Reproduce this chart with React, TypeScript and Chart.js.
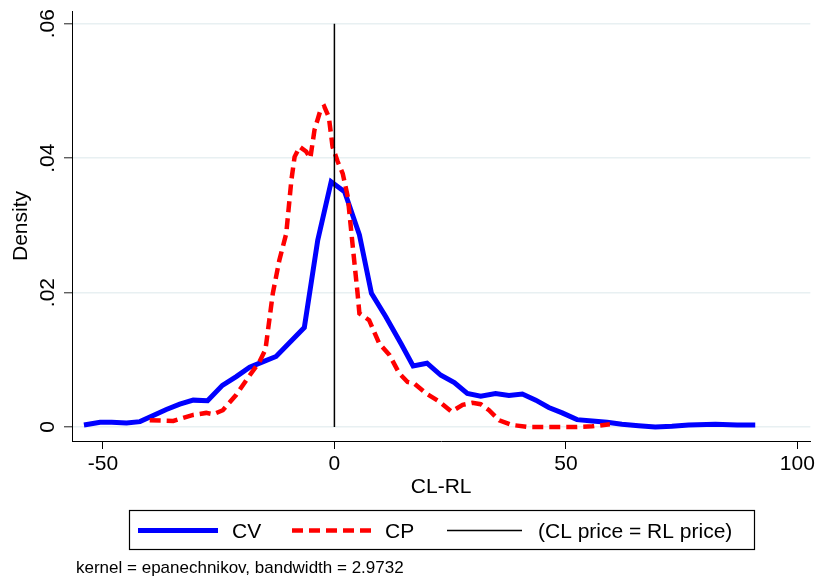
import React, { useEffect, useRef } from 'react';
import { Chart, registerables } from 'chart.js';

Chart.register(...registerables);

// ---- data ----
const cvX = [-54.1, -50.6, -48.1, -44.9, -42.0, -36.3, -33.4, -30.5, -27.4, -24.2, -21.2, -18.3, -15.5, -12.6, -6.5, -3.6, -0.7, 2.2, 5.4, 8.0, 11.1, 14.4, 17.0, 20.0, 23.0, 25.9, 28.7, 31.6, 34.8, 37.7, 40.6, 43.5, 46.3, 49.2, 52.4, 55.7, 58.9, 62.1, 65.7, 69.3, 72.9, 76.5, 82.3, 87.0, 90.9];
const cvY = [0.0003, 0.0007, 0.0007, 0.0006, 0.0008, 0.0026, 0.0034, 0.0040, 0.0039, 0.0062, 0.0075, 0.0089, 0.0097, 0.0105, 0.0148, 0.0278, 0.0365, 0.0350, 0.0286, 0.0199, 0.0164, 0.0124, 0.0091, 0.0095, 0.0077, 0.0066, 0.0050, 0.0046, 0.0050, 0.0047, 0.0049, 0.0040, 0.0029, 0.0021, 0.0011, 0.0009, 0.0007, 0.0004, 0.0002, 0.0000, 0.0001, 0.0003, 0.0004, 0.0003, 0.0003];

const cpX = [-39.9, -34.8, -30.5, -27.7, -26.2, -24.1, -21.2, -19.0, -16.2, -14.9, -13.3, -11.9, -10.4, -9.3, -8.6, -7.5, -6.1, -5.2, -4.3, -2.9, -2.2, -1.2, -0.4, 0.7, 1.8, 2.9, 3.9, 5.0, 5.4, 7.5, 9.7, 11.9, 14.0, 15.8, 17.2, 19.8, 22.6, 25.3, 27.7, 29.8, 31.6, 33.4, 35.6, 38.4, 42.0, 47.0, 52.1, 55.7, 59.5];
const cpY = [0.0010, 0.0009, 0.0018, 0.0021, 0.0019, 0.0025, 0.0048, 0.0070, 0.0097, 0.0115, 0.0199, 0.0248, 0.0288, 0.0367, 0.0402, 0.0417, 0.0410, 0.0400, 0.0442, 0.0474, 0.0477, 0.0461, 0.0417, 0.0395, 0.0377, 0.0342, 0.0273, 0.0199, 0.0169, 0.0159, 0.0124, 0.0107, 0.0080, 0.0067, 0.0065, 0.0050, 0.0038, 0.0023, 0.0033, 0.0036, 0.0034, 0.0025, 0.0010, 0.0003, 0.0000, 0.0000, 0.0000, 0.0001, 0.0004];

const refX = [0, 0];
const refY = [0, 0.06];

const xTicks = [-50, 0, 50, 100];
const xTickLabels = ['-50', '0', '50', '100'];
const yTicks = [0, 0.02, 0.04, 0.06];
const yTickLabels = ['0', '.02', '.04', '.06'];

const seriesNames = ['CV', 'CP', '(CL price = RL price)'];
const xTitle = 'CL-RL';
const yTitle = 'Density';
const noteText = 'kernel = epanechnikov, bandwidth = 2.9732';

const FONT = '"Liberation Sans", Arial, Helvetica, sans-serif';

const toPoints = (xs: number[], ys: number[]) => xs.map((x, i) => ({ x, y: ys[i] }));

const decorPlugin = {
  id: 'decor',
  afterDraw(chart: any) {
    const ctx = chart.ctx as CanvasRenderingContext2D;
    const yScale = chart.scales.y;
    ctx.save();
    ctx.fillStyle = '#000';
    // rotated y tick labels (Stata style)
    ctx.font = `21px ${FONT}`;
    yTicks.forEach((v, i) => {
      const py = yScale.getPixelForValue(v);
      ctx.save();
      ctx.translate(53.5, py);
      ctx.rotate(-Math.PI / 2);
      ctx.textAlign = 'center';
      ctx.textBaseline = 'alphabetic';
      ctx.fillText(yTickLabels[i], 0, 0);
      ctx.restore();
    });

    // legend box
    ctx.strokeStyle = '#000';
    ctx.lineWidth = 1.2;
    ctx.strokeRect(129.5, 510.5, 625, 39);

    const order = [0, 1, 2];
    const samples = [
      { x0: 138, x1: 218, tx: 232 },
      { x0: 292, x1: 372, tx: 385 },
      { x0: 447, x1: 522, tx: 538 },
    ];
    order.forEach((di, k) => {
      const ds = chart.data.datasets[di];
      const s = samples[k];
      ctx.save();
      ctx.strokeStyle = ds.borderColor;
      ctx.lineWidth = ds.borderWidth;
      ctx.setLineDash(ds.borderDash || []);
      ctx.lineCap = 'butt';
      ctx.beginPath();
      ctx.moveTo(s.x0, 530.5);
      ctx.lineTo(s.x1, 530.5);
      ctx.stroke();
      ctx.restore();
      ctx.font = `21px ${FONT}`;
      ctx.textAlign = 'left';
      ctx.textBaseline = 'alphabetic';
      ctx.fillText(seriesNames[di], s.tx, 537.5);
    });

    // note
    ctx.font = `17px ${FONT}`;
    ctx.textAlign = 'left';
    ctx.textBaseline = 'alphabetic';
    ctx.fillText(noteText, 76, 572.5);
    ctx.restore();
  },
};

export default function App() {
  const ref = useRef<HTMLCanvasElement | null>(null);

  useEffect(() => {
    if (!ref.current) return;
    const chart = new Chart(ref.current, {
      type: 'line',
      data: {
        datasets: [
          {
            label: seriesNames[0],
            data: toPoints(cvX, cvY),
            borderColor: 'rgb(0,0,255)',
            backgroundColor: 'rgb(0,0,255)',
            borderWidth: 5,
            pointRadius: 0,
            tension: 0,
            fill: false,
            order: 3,
          },
          {
            label: seriesNames[1],
            data: toPoints(cpX, cpY),
            borderColor: 'rgb(255,0,0)',
            backgroundColor: 'rgb(255,0,0)',
            borderWidth: 4.5,
            borderDash: [11, 6],
            pointRadius: 0,
            tension: 0,
            fill: false,
            order: 2,
          },
          {
            label: seriesNames[2],
            data: toPoints(refX, refY),
            borderColor: '#000',
            backgroundColor: '#000',
            borderWidth: 1.5,
            pointRadius: 0,
            tension: 0,
            fill: false,
            order: 1,
          },
        ],
      },
      options: {
        animation: false,
        responsive: false,
        maintainAspectRatio: false,
        layout: { padding: { top: 11, right: 6, bottom: 79, left: 0 } },
        plugins: { legend: { display: false }, tooltip: { enabled: false } },
        scales: {
          x: {
            type: 'linear',
            min: -56.68,
            max: 102.8,
            afterBuildTicks: (s: any) => {
              s.ticks = xTicks.map((v) => ({ value: v }));
            },
            afterFit: (s: any) => {
              s.height = 59;
            },
            ticks: {
              font: { family: FONT, size: 21 },
              color: '#000',
              padding: 3,
              maxRotation: 0,
              autoSkip: false,
              callback: (v: any) => {
                const i = xTicks.indexOf(Number(v));
                return i >= 0 ? xTickLabels[i] : '';
              },
            },
            grid: { drawOnChartArea: false, tickLength: 8, tickColor: '#000', tickWidth: 1 },
            border: { color: '#000', width: 1 },
            title: {
              display: true,
              text: xTitle,
              color: '#000',
              font: { family: FONT, size: 21 },
              padding: { top: 0, bottom: 0 },
            },
          },
          y: {
            type: 'linear',
            min: -0.00208,
            max: 0.0619,
            afterBuildTicks: (s: any) => {
              s.ticks = yTicks.map((v) => ({ value: v }));
            },
            afterFit: (s: any) => {
              s.width = 72;
            },
            ticks: { display: false },
            grid: {
              color: 'rgb(232,240,242)',
              lineWidth: 1.5,
              tickLength: 8,
              tickColor: '#444',
              tickWidth: 1.2,
            },
            border: { color: '#000', width: 1 },
            title: {
              display: true,
              text: yTitle,
              color: '#000',
              font: { family: FONT, size: 21 },
              padding: { top: 8.4, bottom: 0 },
            },
          },
        },
      },
      plugins: [decorPlugin],
    } as any);
    return () => chart.destroy();
  }, []);

  return (
    <div style={{ position: 'absolute', left: 0, top: 0, width: 818, height: 579, background: '#fff' }}>
      <canvas ref={ref} width={818} height={579} style={{ display: 'block' }} />
    </div>
  );
}
